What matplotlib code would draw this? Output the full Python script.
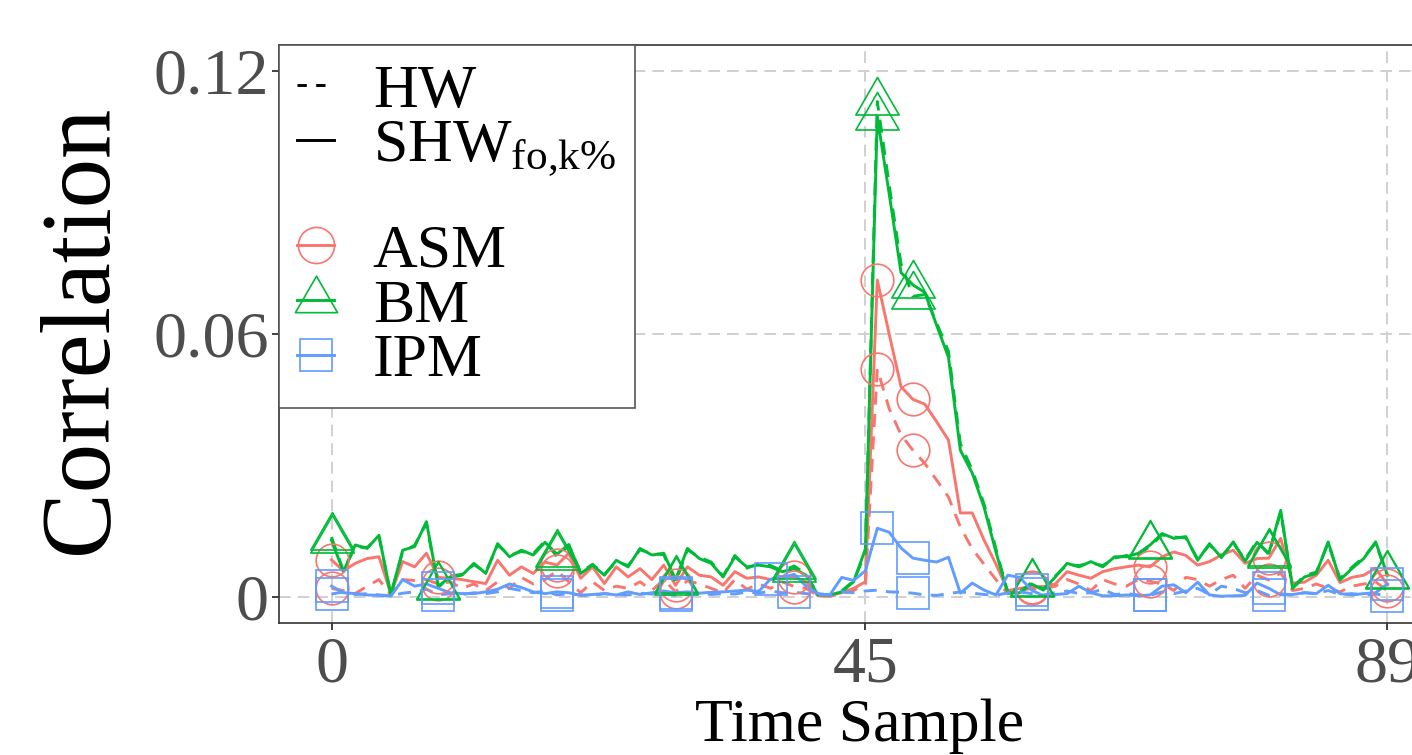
import matplotlib
matplotlib.use("Agg")
import matplotlib.pyplot as plt
from matplotlib.lines import Line2D
from matplotlib.path import Path

# ---------------- data ----------------
time_sample = list(range(90))

asm_hw = [0.0020, 0.0015, 0.0008, 0.0025, 0.0040, 0.0005, 0.0040, 0.0038, 0.0040, 0.0030,
          0.0035, 0.0020, 0.0030, 0.0015, 0.0035, 0.0020, 0.0045, 0.0030, 0.0040, 0.0060,
          0.0035, 0.0010, 0.0035, 0.0015, 0.0025, 0.0020, 0.0035, 0.0015, 0.0040, 0.0012,
          0.0038, 0.0030, 0.0020, 0.0010, 0.0040, 0.0018, 0.0030, 0.0020, 0.0035, 0.0024,
          0.0020, 0.0003, 0.0002, 0.0008, 0.0015, 0.0030, 0.0520, 0.0430, 0.0370, 0.0335,
          0.0305, 0.0267, 0.0228, 0.0160, 0.0110, 0.0075, 0.0040, 0.0008, 0.0015, 0.0020,
          0.0018, 0.0025, 0.0040, 0.0030, 0.0015, 0.0040, 0.0030, 0.0025, 0.0040, 0.0036,
          0.0030, 0.0015, 0.0045, 0.0040, 0.0025, 0.0040, 0.0050, 0.0020, 0.0050, 0.0039,
          0.0055, 0.0015, 0.0020, 0.0030, 0.0020, 0.0012, 0.0025, 0.0030, 0.0035, 0.0014]

asm_shw = [0.0085, 0.0060, 0.0077, 0.0088, 0.0092, 0.0008, 0.0081, 0.0069, 0.0100, 0.0045,
           0.0043, 0.0040, 0.0035, 0.0031, 0.0084, 0.0050, 0.0069, 0.0054, 0.0080, 0.0073,
           0.0100, 0.0043, 0.0069, 0.0031, 0.0069, 0.0046, 0.0065, 0.0040, 0.0073, 0.0027,
           0.0069, 0.0050, 0.0046, 0.0027, 0.0058, 0.0043, 0.0046, 0.0040, 0.0045, 0.0046,
           0.0035, 0.0003, 0.0004, 0.0010, 0.0020, 0.0035, 0.0723, 0.0600, 0.0480, 0.0451,
           0.0440, 0.0400, 0.0358, 0.0192, 0.0192, 0.0130, 0.0075, 0.0015, 0.0020, 0.0024,
           0.0024, 0.0030, 0.0058, 0.0050, 0.0043, 0.0058, 0.0065, 0.0069, 0.0073, 0.0069,
           0.0092, 0.0103, 0.0095, 0.0073, 0.0081, 0.0096, 0.0107, 0.0077, 0.0088, 0.0089,
           0.0134, 0.0032, 0.0034, 0.0050, 0.0084, 0.0033, 0.0045, 0.0050, 0.0066, 0.0028]

bm_hw = [0.0137, 0.0060, 0.0115, 0.0113, 0.0138, 0.0006, 0.0104, 0.0118, 0.0168, 0.0022,
         0.0048, 0.0052, 0.0074, 0.0057, 0.0119, 0.0095, 0.0104, 0.0099, 0.0128, 0.0092,
         0.0118, 0.0056, 0.0075, 0.0052, 0.0081, 0.0072, 0.0108, 0.0099, 0.0097, 0.0034,
         0.0108, 0.0091, 0.0080, 0.0048, 0.0095, 0.0066, 0.0076, 0.0072, 0.0060, 0.0071,
         0.0052, 0.0006, 0.0006, 0.0014, 0.0037, 0.0100, 0.1130, 0.0940, 0.0760, 0.0686,
         0.0690, 0.0625, 0.0560, 0.0350, 0.0290, 0.0212, 0.0110, 0.0010, 0.0012, 0.0033,
         0.0018, 0.0048, 0.0074, 0.0072, 0.0078, 0.0072, 0.0089, 0.0095, 0.0097, 0.0116,
         0.0142, 0.0137, 0.0135, 0.0087, 0.0119, 0.0093, 0.0123, 0.0085, 0.0128, 0.0097,
         0.0195, 0.0022, 0.0049, 0.0057, 0.0123, 0.0042, 0.0068, 0.0091, 0.0123, 0.0048]

bm_shw = [0.0130, 0.0058, 0.0119, 0.0111, 0.0141, 0.0005, 0.0107, 0.0115, 0.0172, 0.0025,
          0.0046, 0.0050, 0.0077, 0.0054, 0.0122, 0.0092, 0.0107, 0.0096, 0.0125, 0.0098,
          0.0120, 0.0054, 0.0073, 0.0050, 0.0084, 0.0069, 0.0111, 0.0096, 0.0100, 0.0040,
          0.0111, 0.0088, 0.0077, 0.0046, 0.0092, 0.0069, 0.0073, 0.0069, 0.0058, 0.0065,
          0.0050, 0.0005, 0.0005, 0.0012, 0.0035, 0.0110, 0.1095, 0.0920, 0.0740, 0.0712,
          0.0695, 0.0620, 0.0547, 0.0335, 0.0283, 0.0205, 0.0103, 0.0009, 0.0010, 0.0030,
          0.0016, 0.0046, 0.0077, 0.0069, 0.0081, 0.0069, 0.0092, 0.0092, 0.0100, 0.0119,
          0.0145, 0.0134, 0.0138, 0.0084, 0.0122, 0.0090, 0.0126, 0.0082, 0.0125, 0.0100,
          0.0198, 0.0020, 0.0046, 0.0054, 0.0126, 0.0039, 0.0065, 0.0088, 0.0126, 0.0050]

ipm_hw = [0.0007, 0.0012, 0.0006, 0.0008, 0.0005, 0.0003, 0.0009, 0.0012, 0.0018, 0.0005,
          0.0008, 0.0006, 0.0010, 0.0008, 0.0012, 0.0020, 0.0015, 0.0010, 0.0014, 0.0005,
          0.0008, 0.0005, 0.0004, 0.0008, 0.0006, 0.0005, 0.0009, 0.0007, 0.0008, 0.0004,
          0.0006, 0.0010, 0.0006, 0.0008, 0.0007, 0.0012, 0.0009, 0.0014, 0.0010, 0.0011,
          0.0008, 0.0006, 0.0005, 0.0012, 0.0010, 0.0014, 0.0016, 0.0012, 0.0011, 0.0009,
          0.0005, 0.0004, 0.0008, 0.0012, 0.0009, 0.0006, 0.0004, 0.0010, 0.0012, 0.0008,
          0.0005, 0.0010, 0.0014, 0.0008, 0.0010, 0.0018, 0.0006, 0.0008, 0.0005, 0.0004,
          0.0012, 0.0008, 0.0014, 0.0020, 0.0006, 0.0025, 0.0020, 0.0010, 0.0015, 0.0004,
          0.0008, 0.0005, 0.0010, 0.0008, 0.0015, 0.0006, 0.0008, 0.0005, 0.0007, 0.0003]

ipm_shw = [0.0025, 0.0010, 0.0008, 0.0005, 0.0004, 0.0002, 0.0040, 0.0025, 0.0030, 0.0020,
           0.0010, 0.0008, 0.0008, 0.0012, 0.0018, 0.0030, 0.0022, 0.0012, 0.0008, 0.0012,
           0.0010, 0.0004, 0.0006, 0.0008, 0.0005, 0.0012, 0.0006, 0.0010, 0.0014, 0.0010,
           0.0012, 0.0009, 0.0011, 0.0012, 0.0014, 0.0016, 0.0013, 0.0041, 0.0045, 0.0052,
           0.0025, 0.0008, 0.0005, 0.0045, 0.0038, 0.0060, 0.0157, 0.0148, 0.0112, 0.0089,
           0.0084, 0.0080, 0.0091, 0.0009, 0.0032, 0.0016, 0.0005, 0.0050, 0.0045, 0.0016,
           0.0003, 0.0006, 0.0008, 0.0025, 0.0010, 0.0003, 0.0003, 0.0005, 0.0003, 0.0005,
           0.0025, 0.0028, 0.0010, 0.0034, 0.0005, 0.0002, 0.0003, 0.0004, 0.0032, 0.0020,
           0.0005, 0.0006, 0.0010, 0.0008, 0.0027, 0.0008, 0.0005, 0.0008, 0.0010, 0.0030]

marks_common = [0, 9, 19, 29, 39, 46, 49, 59, 69, 79, 89]
marks_ipm_shw = [0, 9, 19, 29, 37, 46, 49, 59, 69, 79, 89]
marks_ipm_hw = [0, 9, 19, 29, 39, 49, 59, 69, 79, 89]

x_ticks = [0, 45, 89]
y_ticks = [0, 0.06, 0.12]
y_tick_labels = ["0", "0.06", "0.12"]
methods = ["ASM", "BM", "IPM"]

# ---------------- style ----------------
plt.rcParams["font.family"] = ["Liberation Serif", "DejaVu Serif"]
plt.rcParams["mathtext.fontset"] = "custom"
plt.rcParams["mathtext.rm"] = "Liberation Serif"
plt.rcParams["mathtext.it"] = "Liberation Serif:italic"

RED, GREEN, BLUE = "#F8766D", "#00BA38", "#619CFF"
tri = Path([(0, 1), (-0.8660, -0.5), (0.8660, -0.5), (0, 1)],
           [Path.MOVETO, Path.LINETO, Path.LINETO, Path.CLOSEPOLY])

series = [
    (asm_hw, asm_shw, RED, "o", 23.5, marks_common, marks_common),
    (bm_hw, bm_shw, GREEN, tri, 36, marks_common, marks_common),
    (ipm_hw, ipm_shw, BLUE, "s", 23, marks_ipm_hw, marks_ipm_shw),
]

W, H = 1412, 755
fig = plt.figure(figsize=(W / 100, H / 100), dpi=100)
x_lo, x_hi = -4.45, 93.45
px_per_unit = 11.865
left_px = 331.5 + x_lo * px_per_unit
right_px = 331.5 + x_hi * px_per_unit
top_px, bot_px = 45, 623
ax = fig.add_axes([left_px / W, (H - bot_px) / H, (right_px - left_px) / W, (bot_px - top_px) / H])

LW = 2.1
DASH = (0, (4.5, 3.2))
for hw, shw, col, mk, ms, mhw, mshw in series:
    ax.plot(time_sample, hw, color=col, lw=LW, ls=DASH, zorder=3)
    ax.plot(time_sample, shw, color=col, lw=LW, ls="-", zorder=3)
for hw, shw, col, mk, ms, mhw, mshw in series:
    ax.plot([time_sample[i] for i in mhw], [hw[i] for i in mhw], ls="none", marker=mk,
            ms=ms, mfc="none", mec=col, mew=1.2, zorder=4)
    ax.plot([time_sample[i] for i in mshw], [shw[i] for i in mshw], ls="none", marker=mk,
            ms=ms, mfc="none", mec=col, mew=1.2, zorder=4)

ax.set_xlim(x_lo, x_hi)
ax.set_ylim(-0.0059, 0.1259)
ax.set_xticks(x_ticks)
ax.set_xticklabels([str(v) for v in x_ticks])
ax.set_yticks(y_ticks)
ax.set_yticklabels(y_tick_labels)
ax.grid(True, color="#d0d0d0", ls=(0, (6, 3.6)), lw=1.4, zorder=0)
ax.set_axisbelow(True)
for s in ax.spines.values():
    s.set_color("#333333")
    s.set_linewidth(1.2)
ax.tick_params(axis="both", direction="out", length=5, width=1.3, color="#333333",
               labelcolor="#4d4d4d", labelsize=47.5, pad=2)
ax.tick_params(axis="x", pad=4)

ax.set_xlabel("Time Sample", fontsize=44.6, color="black")
ax.xaxis.set_label_coords(0.5, -0.13)
ax.xaxis.label.set_va("top")
ax.set_ylabel("Correlation", fontsize=71, color="black")
ax.yaxis.set_label_coords(-0.131, 0.508)

# legend
handles = [
    Line2D([], [], color="black", lw=LW, ls=(0, (3.2, 3.2))),
    Line2D([], [], color="black", lw=LW, ls="-"),
    Line2D([], [], color="none"),
    Line2D([], [], color=RED, lw=LW, marker="o", ms=26, mfc="none", mew=1.2),
    Line2D([], [], color=GREEN, lw=LW, marker=tri, ms=35, mfc="none", mew=1.2),
    Line2D([], [], color=BLUE, lw=LW, marker="s", ms=23, mfc="none", mew=1.2),
]
labels = ["HW", r"SHW$_{\mathrm{fo{,}k\%}}$", " "] + methods
leg = ax.legend(handles, labels, loc="upper left", bbox_to_anchor=(0, 1), borderaxespad=0,
                fancybox=False, edgecolor="#555555", fontsize=44.6, handlelength=0.6,
                handletextpad=0.62, labelspacing=-0.025, borderpad=0.3, framealpha=1)
leg.get_frame().set_linewidth(1.2)
leg.get_texts()[2].set_fontsize(14)
leg.set_zorder(10)

fig.savefig("out.png", dpi=100)
